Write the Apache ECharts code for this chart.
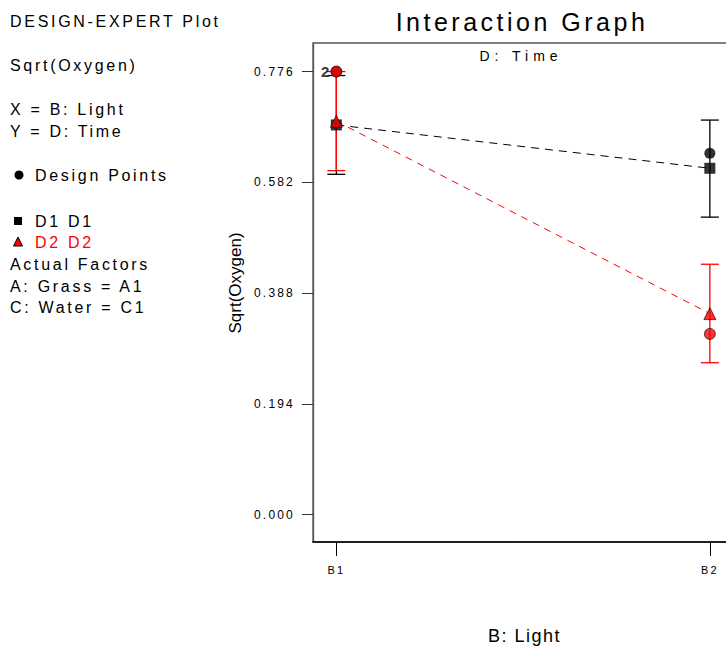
<!DOCTYPE html>
<html>
<head>
<meta charset="utf-8">
<script src="https://cdn.jsdelivr.net/npm/echarts@6/dist/echarts.min.js"></script>
<style>html,body{margin:0;padding:0;background:#fff}#c{width:726px;height:648px}</style>
</head>
<body>
<div id="c"></div>
<script>
// ---- data ----
var categories = ['B1', 'B2'];
var xPos = [1, 2];
var yTicks = [0.000, 0.194, 0.388, 0.582, 0.776];
var d1Mean = [0.6825, 0.6066];
var d1Low = [0.596, 0.521];
var d1High = [0.769, 0.691];
var d2Mean = [0.689, 0.352];
var d2Low = [0.6025, 0.266];
var d2High = [0.776, 0.4385];
var d1Design = [0.776, 0.633];
var d2Design = [0.776, 0.3165];
var designCountLabel = ['2', ''];

var FONT = 'Liberation Sans, Arial, sans-serif';
var RED = '#ff0000';

function pairs(vals) { return vals.map(function (v, i) { return [xPos[i], v]; }); }
function bars(lo, hi) { return lo.map(function (v, i) { return [xPos[i], v, hi[i]]; }); }

function errRender(color) {
  return function (params, api) {
    var x = api.value(0);
    var lo = api.coord([x, api.value(1)]);
    var hi = api.coord([x, api.value(2)]);
    var w = 9;
    var st = { stroke: color, lineWidth: 1.3 };
    return {
      type: 'group',
      children: [
        { type: 'line', shape: { x1: lo[0], y1: lo[1], x2: hi[0], y2: hi[1] }, style: st },
        { type: 'line', shape: { x1: lo[0] - w, y1: lo[1], x2: lo[0] + w, y2: lo[1] }, style: st },
        { type: 'line', shape: { x1: hi[0] - w, y1: hi[1], x2: hi[0] + w, y2: hi[1] }, style: st }
      ]
    };
  };
}

var leftTexts = [
  ['DESIGN-EXPERT Plot', 10, 21, '#000'],
  ['Sqrt(Oxygen)', 10, 65, '#000'],
  ['X = B: Light', 10, 109, '#000'],
  ['Y = D: Time', 10, 131, '#000'],
  ['Design Points', 35, 175, '#000'],
  ['D1 D1', 35, 221, '#000'],
  ['D2 D2', 35, 242, RED],
  ['Actual Factors', 10, 264, '#000'],
  ['A: Grass = A1', 10, 286, '#000'],
  ['C: Water = C1', 10, 307, '#000']
];

var graphics = leftTexts.map(function (t) {
  return { type: 'text', x: t[1], y: t[2], style: { text: t[0], fill: t[3], font: '16px ' + FONT, verticalAlign: 'middle' } };
});
graphics.push({ type: 'circle', shape: { cx: 19, cy: 175, r: 4.5 }, style: { fill: '#000' } });
graphics.push({ type: 'rect', shape: { x: 14, y: 217, width: 8, height: 8 }, style: { fill: '#000' } });
graphics.push({ type: 'polygon', shape: { points: [[18, 237], [13.5, 246], [22.5, 246]] }, style: { fill: RED, stroke: '#000', lineWidth: 1 } });
graphics.push({ type: 'text', x: 522, y: 22, style: { text: 'Interaction Graph', font: '25px ' + FONT, fill: '#000', align: 'center', verticalAlign: 'middle' } });
graphics.push({ type: 'text', x: 521, y: 56, style: { text: 'D: Time', font: '14px ' + FONT, fill: '#000', align: 'center', verticalAlign: 'middle' } });
graphics.push({ type: 'text', x: 235, y: 283, rotation: Math.PI / 2, style: { text: 'Sqrt(Oxygen)', font: '17px ' + FONT, fill: '#000', align: 'center', verticalAlign: 'middle' } });

var chart = echarts.init(document.getElementById('c'), null, { renderer: 'svg' });
chart.setOption({
  animation: false,
  backgroundColor: '#fff',
  graphic: graphics,
  grid: { left: 313, top: 43, bottom: 106, right: -10, containLabel: false, outerBoundsMode: 'none',
          show: true, borderColor: '#555', borderWidth: 1.3 },
  xAxis: {
    type: 'value', min: 0.9375, max: 2.07,
    splitLine: { show: false },
    axisLine: { show: true, onZero: false, lineStyle: { color: '#000', width: 1.5 } },
    axisTick: { show: true, length: 14, customValues: xPos, lineStyle: { color: '#000' } },
    axisLabel: {
      customValues: xPos, margin: 22, color: '#000', fontSize: 11, fontFamily: FONT,
      formatter: function (v) { return categories[Math.round(v) - 1]; }
    },
    name: 'B: Light', nameLocation: 'middle', nameGap: 85,
    nameTextStyle: { fontSize: 18, color: '#000', fontFamily: FONT }
  },
  yAxis: {
    type: 'value', min: -0.048, max: 0.826,
    splitLine: { show: false },
    axisLine: { show: true, lineStyle: { color: '#555', width: 1.3 } },
    axisTick: { show: true, length: 11, customValues: yTicks, lineStyle: { color: '#333' } },
    axisLabel: {
      customValues: yTicks, margin: 18, color: '#000', fontSize: 12, fontFamily: FONT,
      formatter: function (v) { return v.toFixed(3); }
    }
  },
  series: [
    {
      type: 'line', name: 'D1 line', data: pairs(d1Mean), symbol: 'none', z: 2,
      lineStyle: { color: '#000', width: 1, type: [8, 6] }
    },
    {
      type: 'line', name: 'D2 line', data: pairs(d2Mean), symbol: 'none', z: 2,
      lineStyle: { color: RED, width: 1, type: [7, 6] }
    },
    { type: 'custom', name: 'D1 err', data: bars(d1Low, d1High), renderItem: errRender('#000'), z: 3 },
    { type: 'custom', name: 'D2 err', data: bars(d2Low, d2High), renderItem: errRender(RED), z: 4 },
    {
      type: 'scatter', name: 'D1 design', data: pairs(d1Design), symbol: 'circle', symbolSize: 11, z: 5,
      itemStyle: { color: '#000' }
    },
    {
      type: 'scatter', name: 'D1 mean', data: pairs(d1Mean), symbol: 'rect', symbolSize: 11, z: 6,
      itemStyle: { color: '#000' }
    },
    {
      type: 'scatter', name: 'D2 mean', data: pairs(d2Mean), symbol: 'triangle', symbolSize: 12, z: 7,
      itemStyle: { color: RED, borderColor: '#000', borderWidth: 0.8 }
    },
    {
      type: 'scatter', name: 'D2 design', symbol: 'circle', symbolSize: 11, z: 8,
      data: d2Design.map(function (v, i) { return { value: [xPos[i], v], label: { show: designCountLabel[i] !== '', formatter: designCountLabel[i] } }; }),
      itemStyle: { color: RED, borderColor: '#000', borderWidth: 0.8 },
      label: { position: 'left', distance: 1, color: '#000', fontSize: 15, fontWeight: 'bold', fontFamily: FONT }
    }
  ]
});

// wide letter spacing like the original Design-Expert rendering
var spacingBySize = { '25px': '3.5px', '16px': '2.7px', '18px': '1.5px', '17px': '0px', '14px': '5px', '12px': '2.2px', '11px': '2px', '15px': '0px' };
function applySpacing() {
  var texts = document.querySelectorAll('#c svg text');
  for (var i = 0; i < texts.length; i++) {
    var fs = window.getComputedStyle(texts[i]).fontSize;
    if (spacingBySize[fs] !== undefined) texts[i].style.letterSpacing = spacingBySize[fs];
  }
}
applySpacing();
chart.on('finished', applySpacing);
</script>
</body>
</html>
